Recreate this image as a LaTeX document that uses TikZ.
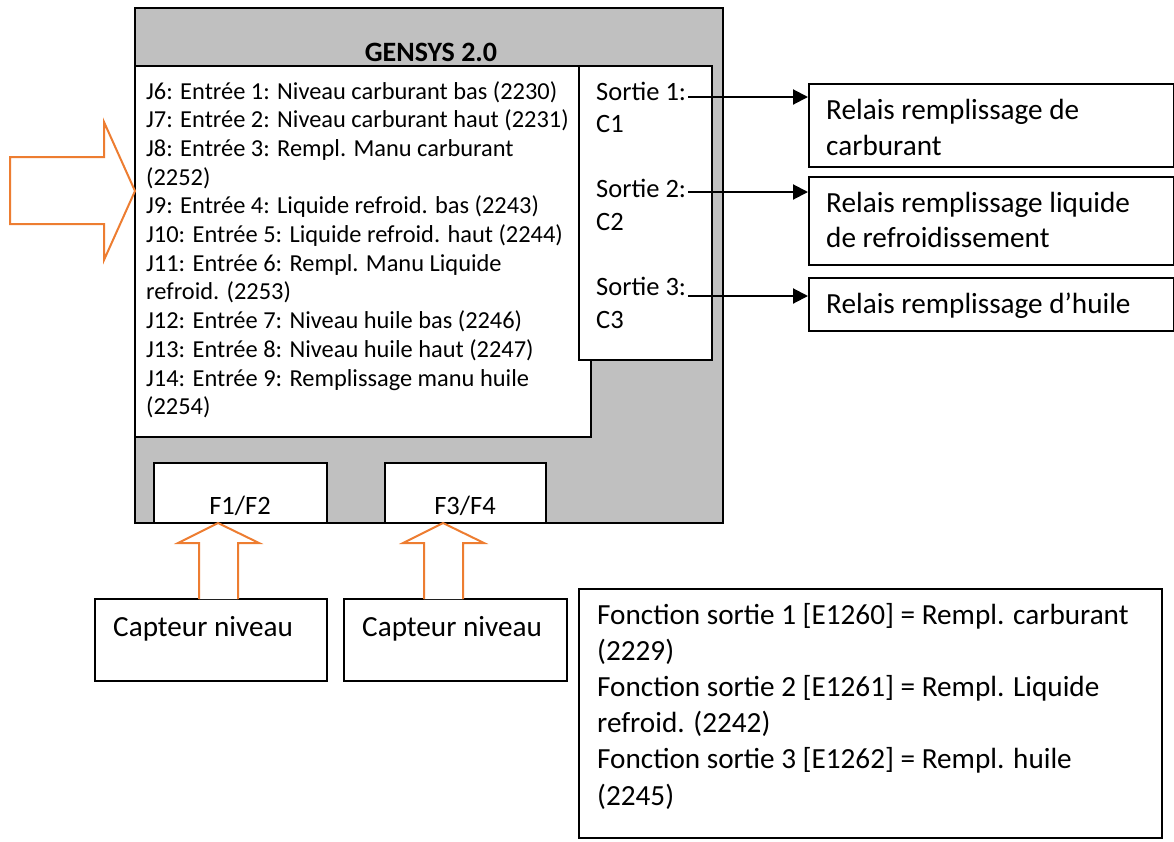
\documentclass[tikz,border=0pt]{standalone}
\usepackage{fontspec}
\setmainfont{Carlito}
\usetikzlibrary{arrows.meta}
\definecolor{boxgray}{RGB}{192,192,192}
\definecolor{orangearrow}{RGB}{237,125,49}
\tikzset{
  box/.style={draw=black, line width=2pt, fill=white},
  blockarrow/.style={draw=orangearrow, line width=2pt, fill=white, line join=miter},
  small/.style={font=\fontsize{24.4}{28.7}\selectfont, anchor=base west, inner sep=0pt},
  mid/.style={font=\fontsize{26.5}{32}\selectfont, anchor=base west, inner sep=0pt},
  big/.style={font=\fontsize{29.2}{36}\selectfont, anchor=base west, inner sep=0pt},
  conn/.style={draw=black, line width=2pt, -{Triangle[length=15pt,width=15pt]}},
}
\begin{document}
\begin{tikzpicture}[x=1pt,y=-1pt]
\useasboundingbox (0,0) rectangle (1174,841);

% main GENSYS frame
\draw[box, fill=boxgray] (135,8) rectangle (723,523);
\node[font=\fontsize{28}{32}\selectfont\bfseries, anchor=base, inner sep=0pt] (title) at (431,61) {GENSYS 2.0};

% inputs box
\draw[box] (135,66) rectangle (591,437);
\foreach \t [count=\i] in {
  {J6: Entrée 1: Niveau carburant bas (2230)},
  {J7: Entrée 2: Niveau carburant haut (2231)},
  {J8: Entrée 3: Rempl. Manu carburant},
  {(2252)},
  {J9: Entrée 4: Liquide refroid. bas (2243)},
  {J10: Entrée 5: Liquide refroid. haut (2244)},
  {J11: Entrée 6: Rempl. Manu Liquide},
  {refroid. (2253)},
  {J12: Entrée 7: Niveau huile bas (2246)},
  {J13: Entrée 8: Niveau huile haut (2247)},
  {J14: Entrée 9: Remplissage manu huile},
  {(2254)}}
  {\node[small] (in\i) at (146,{99+28.7*(\i-1)}) {\t};}

% outputs box
\draw[box] (579,66) rectangle (712,360);
\node[mid] (s1) at (596,100) {Sortie 1:};
\node[mid] (c1) at (596,132) {C1};
\node[mid] (s2) at (596,197) {Sortie 2:};
\node[mid] (c2) at (596,230) {C2};
\node[mid] (s3) at (596,295) {Sortie 3:};
\node[mid] (c3) at (596,328) {C3};

% F boxes
\draw[box] (154,463) rectangle (327,523);
\draw[box] (385,463) rectangle (546,523);
\node[mid, anchor=base] (f12) at (240,514) {F1/F2};
\node[mid, anchor=base] (f34) at (465,514) {F3/F4};

% relay boxes
\node[box, minimum width=365pt, minimum height=83pt, inner sep=0pt, anchor=north west] (r1) at (808,83) {};
\node[box, minimum width=365pt, minimum height=88pt, inner sep=0pt, anchor=north west] (r2) at (808,176) {};
\node[box, minimum width=365pt, minimum height=53pt, inner sep=0pt, anchor=north west] (r3) at (808,277) {};
\node[big] (r1a) at (826,119) {Relais remplissage de};
\node[big] (r1b) at (826,155) {carburant};
\node[big] (r2a) at (826,212) {Relais remplissage liquide};
\node[big] (r2b) at (826,247) {de refroidissement};
\node[big] (r3a) at (826,313) {Relais remplissage d’huile};

% connectors
\coordinate (o1) at (688,97);
\coordinate (o2) at (688,192);
\coordinate (o3) at (688,296);
\draw[conn] (o1) -- (o1 -| r1.west);
\draw[conn] (o2) -- (o2 -| r2.west);
\draw[conn] (o3) -- (o3 -| r3.west);

% sensor boxes
\draw[box] (95,599) rectangle (327,681);
\draw[box] (344,599) rectangle (567,681);
\node[big] (cap1) at (113,636) {Capteur niveau};
\node[big] (cap2) at (362,636) {Capteur niveau};

% function box
\draw[box] (579,589) rectangle (1162,838);
\foreach \t [count=\i] in {
  {Fonction sortie 1 [E1260] = Rempl. carburant},
  {(2229)},
  {Fonction sortie 2 [E1261] = Rempl. Liquide},
  {refroid. (2242)},
  {Fonction sortie 3 [E1262] = Rempl. huile},
  {(2245)}}
  {\node[big] (fn\i) at (597,{624+36.2*(\i-1)}) {\t};}

% orange block arrows
\draw[blockarrow] (10,157) -- (104,157) -- (104,122) -- (135,191) -- (104,260) -- (104,224) -- (10,224) -- cycle;
\draw[blockarrow] (199,599) -- (199,543) -- (178,543) -- (218,523) -- (259,543) -- (238,543) -- (238,599);
\draw[blockarrow] (424,599) -- (424,543) -- (403,543) -- (443,523) -- (484,543) -- (463,543) -- (463,599);
\end{tikzpicture}
\end{document}
